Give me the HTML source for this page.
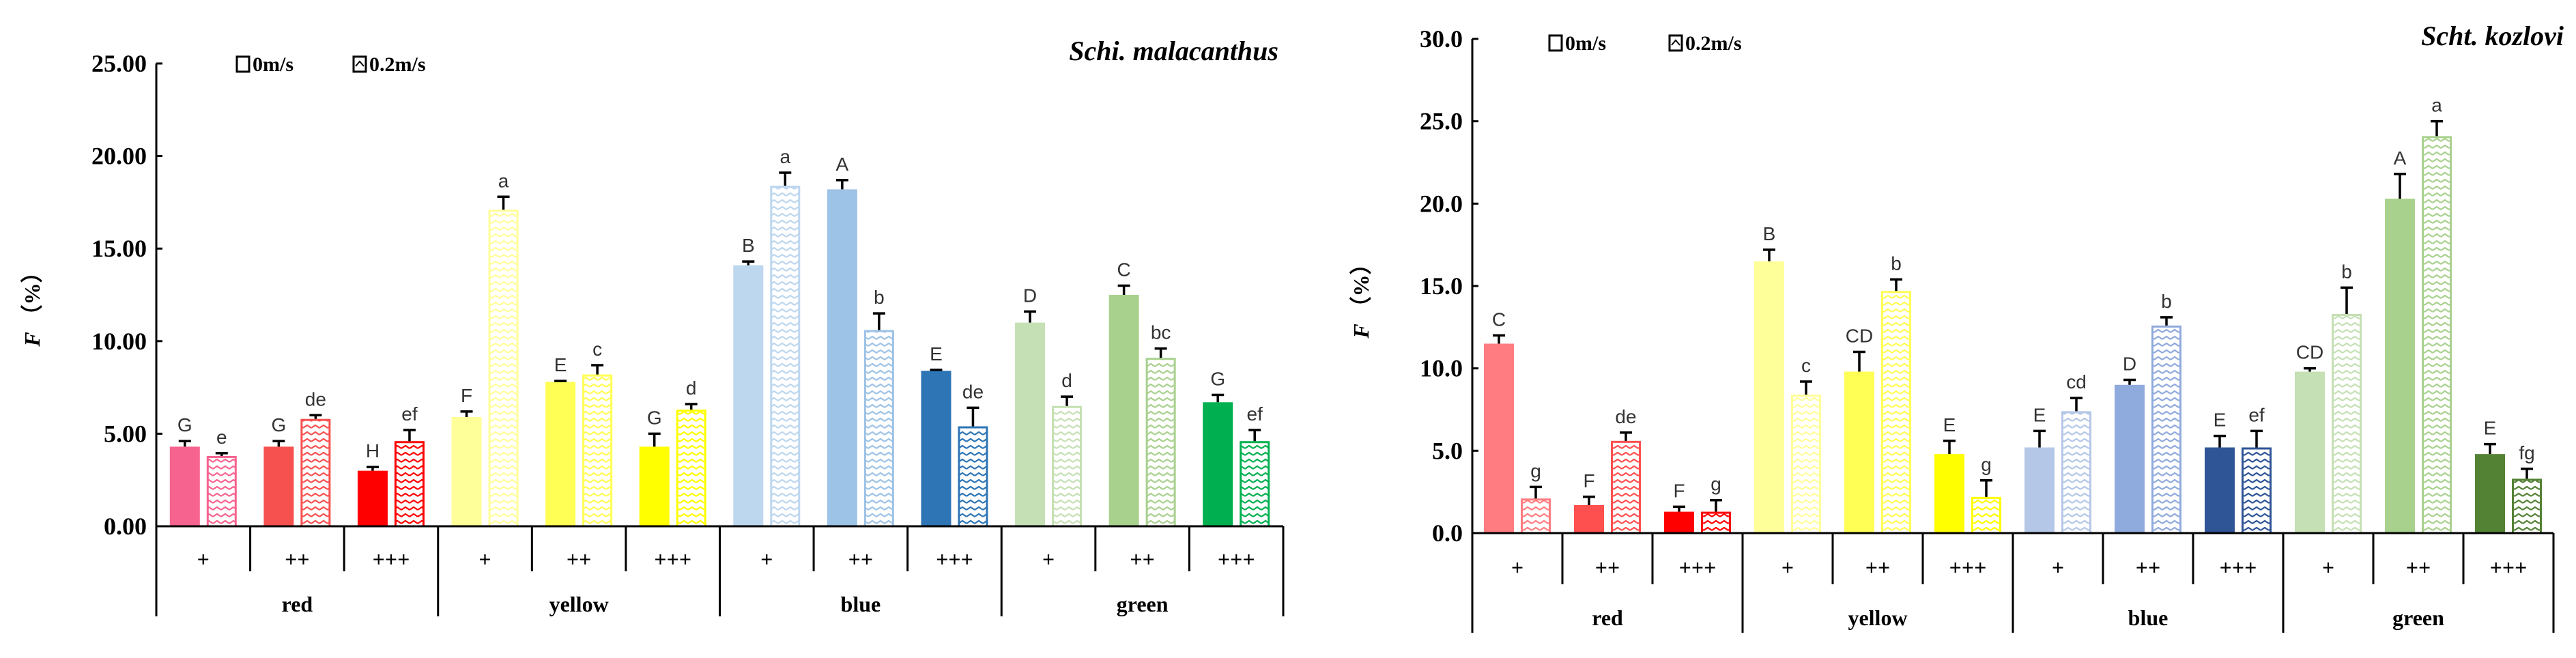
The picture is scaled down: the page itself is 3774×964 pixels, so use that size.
<!DOCTYPE html>
<html><head><meta charset="utf-8"><style>
html,body{margin:0;padding:0;background:#fff;}
svg{display:block;}
.tick{font-family:"Liberation Serif",serif;font-weight:bold;font-size:36px;fill:#000;}
.leg{font-family:"Liberation Serif",serif;font-weight:bold;font-size:30px;fill:#000;}
.ttl{font-family:"Liberation Serif",serif;font-weight:bold;font-style:italic;font-size:40px;fill:#000;}
.lab{font-family:"Liberation Sans",sans-serif;font-size:28px;fill:#333;}
.cat{font-family:"Liberation Serif",serif;font-weight:bold;font-size:32px;fill:#000;}
</style></head><body>
<svg id="svg" width="3774" height="964" viewBox="0 0 3774 964" xmlns="http://www.w3.org/2000/svg"><defs id="defs"></defs></svg>
<script>
const groups=["red","yellow","blue","green"];
const subs=["+","++","+++"];
// Left chart: Schi. malacanthus
const leftTicks=["0.00","5.00","10.00","15.00","20.00","25.00"];
const leftStill=[4.3,4.3,3.0,5.9,7.8,4.3,14.1,18.2,8.4,11.0,12.5,6.7];
const leftStillErr=[0.3,0.3,0.2,0.3,0.05,0.7,0.2,0.5,0.05,0.6,0.5,0.4];
const leftStillLab=["G","G","H","F","E","G","B","A","E","D","C","G"];
const leftWind=[3.8,5.8,4.6,17.1,8.2,6.3,18.4,10.6,5.4,6.5,9.1,4.6];
const leftWindErr=[0.15,0.2,0.6,0.7,0.5,0.3,0.7,0.9,1.0,0.5,0.5,0.6];
const leftWindLab=["e","de","ef","a","c","d","a","b","de","d","bc","ef"];
// Right chart: Scht. kozlovi
const rightTicks=["0.0","5.0","10.0","15.0","20.0","25.0","30.0"];
const rightStill=[11.5,1.7,1.3,16.5,9.8,4.8,5.2,9.0,5.2,9.8,20.3,4.8];
const rightStillErr=[0.5,0.5,0.3,0.7,1.2,0.8,1.0,0.3,0.7,0.2,1.5,0.6];
const rightStillLab=["C","F","F","B","CD","E","E","D","E","CD","A","E"];
const rightWind=[2.1,5.6,1.3,8.4,14.7,2.2,7.4,12.6,5.2,13.3,24.1,3.3];
const rightWindErr=[0.7,0.5,0.7,0.8,0.7,1.0,0.8,0.5,1.0,1.6,0.9,0.6];
const rightWindLab=["g","de","g","c","b","g","cd","b","ef","b","a","fg"];

const leftColors=["#f7638f","#f7514f","#ff0000","#ffff99","#ffff55","#ffff00","#bdd7ee","#9dc3e6","#2e75b6","#c5e0b4","#a9d18e","#00b050"];
const rightColors=["#ff7c80","#ff5050","#ff0000","#ffff99","#ffff55","#ffff00","#b4c7e7","#8faadc","#2f5597","#c5e0b4","#a9d18e","#548235"];

const NS="http://www.w3.org/2000/svg";
const svg=document.getElementById("svg");
const defs=document.getElementById("defs");
function mk(tag,attrs,parent){const e=document.createElementNS(NS,tag);for(const k in attrs)e.setAttribute(k,attrs[k]);(parent||svg).appendChild(e);return e;}
function pattern(id,color){
  const p=mk("pattern",{id:id,width:12,height:10,patternUnits:"userSpaceOnUse"},defs);
  mk("rect",{x:0,y:0,width:12,height:10,fill:"#fff"},p);
  mk("path",{d:"M0 7 L6 3 L12 7",fill:"none",stroke:color,"stroke-width":2.2},p);
}
function chart(cfg){
  const g=mk("g",{});
  
  
  const maxV=cfg.max;
  const y=v=>cfg.y0-(v/maxV)*(cfg.y0-cfg.yTop);
  const n=12, sw=(cfg.x1-cfg.x0)/n;
  const xc=i=>cfg.x0+sw*(i+0.5);
  const ax=mk("line",{x1:cfg.x0,y1:cfg.yTop,x2:cfg.x0,y2:cfg.yGroup,stroke:"#000","stroke-width":3},g);
  
  
  cfg.ticks.forEach((t,i)=>{
    const v=i*maxV/(cfg.ticks.length-1);
    mk("line",{x1:cfg.x0,y1:y(v),x2:cfg.x0+9,y2:y(v),stroke:"#000","stroke-width":3},g);
    const tx=mk("text",{x:cfg.x0-14,y:y(v)+12,"text-anchor":"end",class:"tick"},g);
    tx.textContent=t;
    
    
  });
  for(let i=0;i<n;i++){
    const c=cfg.colors[i], pid=cfg.name+"-p"+i;
    pattern(pid,c);
    const bw=44, b1=xc(i)-5-bw, b2=xc(i)+5;
    const r1=mk("rect",{x:b1,y:y(cfg.still[i]),width:bw,height:cfg.y0-y(cfg.still[i]),fill:c},g);
    
    
    const r2=mk("rect",{x:b2+1.5,y:y(cfg.wind[i])+1.5,width:bw-3,height:cfg.y0-y(cfg.wind[i])-1.5,fill:"url(#"+pid+")",stroke:c,"stroke-width":3},g);
    
    
    [[b1,cfg.still[i],cfg.stillErr[i],cfg.stillLab[i]],[b2,cfg.wind[i],cfg.windErr[i],cfg.windLab[i]]].forEach(([bx,v,e,l])=>{
      const cx=bx+bw/2, top=y(v+e);
      const eb=mk("path",{d:`M${cx} ${y(v)} L${cx} ${top} M${cx-9} ${top} L${cx+9} ${top}`,stroke:"#000","stroke-width":3.5,fill:"none"},g);
      
      
      const lt=mk("text",{x:cx,y:top-14,"text-anchor":"middle",class:"lab"},g);
      lt.textContent=l;
      
      
    });
  }
  const bl=mk("line",{x1:cfg.x0,y1:cfg.y0,x2:cfg.x1,y2:cfg.y0,stroke:"#000","stroke-width":3},g);
  
  
  for(let i=1;i<=n;i++){
    const xx=cfg.x0+sw*i;
    const isG=i%3===0;
    mk("line",{x1:xx,y1:cfg.y0,x2:xx,y2:isG?cfg.yGroup:cfg.ySub,stroke:"#000","stroke-width":3},g);
  }
  for(let i=0;i<n;i++){
    const t=mk("text",{x:xc(i),y:cfg.subLabY,"text-anchor":"middle",class:"cat"},g);
    t.textContent=subs[i%3];
    
    
  }
  groups.forEach((gn,k)=>{
    const t=mk("text",{x:cfg.x0+sw*(3*k+1.5),y:cfg.grpLabY,"text-anchor":"middle",class:"cat"},g);
    t.textContent=gn;
    
    
  });
  const yt=mk("text",{x:0,y:0,transform:`translate(${cfg.yTitleX},${cfg.yTitleY}) rotate(-90)`,"text-anchor":"middle",class:"cat","font-size":"38"},g);
  yt.innerHTML='<tspan font-style="italic">F</tspan> （%）';
  
  
  const lg=mk("g",{},g);
  
  
  mk("rect",{x:cfg.legX,y:cfg.legY-21,width:18,height:22,fill:"#fff",stroke:"#000","stroke-width":3},lg);
  const l1=mk("text",{x:cfg.legX+23,y:cfg.legY,class:"leg"},lg);l1.textContent="0m/s";
  mk("rect",{x:cfg.legX2,y:cfg.legY-21,width:18,height:22,fill:"#fff",stroke:"#000","stroke-width":3},lg);
  mk("path",{d:`M${cfg.legX2+3} ${cfg.legY-7} L${cfg.legX2+9} ${cfg.legY-14} L${cfg.legX2+15} ${cfg.legY-7}`,stroke:"#000","stroke-width":2,fill:"none"},lg);
  const l2=mk("text",{x:cfg.legX2+23,y:cfg.legY,class:"leg"},lg);l2.textContent="0.2m/s";
  const tt=mk("text",{x:cfg.titleX,y:cfg.titleY,"text-anchor":"end",class:"ttl"},g);
  tt.textContent=cfg.title;
  
  
}
chart({name:"left-chart",title:"Schi. malacanthus",max:25,ticks:leftTicks,still:leftStill,stillErr:leftStillErr,stillLab:leftStillLab,wind:leftWind,windErr:leftWindErr,windLab:leftWindLab,colors:leftColors,
  x0:229,x1:1880,y0:771,yTop:93,ySub:837,yGroup:903,subLabY:830,grpLabY:896,yTitleX:58,yTitleY:445,legX:347,legY:104,legX2:518,titleX:1873,titleY:88});
chart({name:"right-chart",title:"Scht. kozlovi",max:30,ticks:rightTicks,still:rightStill,stillErr:rightStillErr,stillLab:rightStillLab,wind:rightWind,windErr:rightWindErr,windLab:rightWindLab,colors:rightColors,
  x0:2157,x1:3741,y0:781,yTop:57,ySub:856,yGroup:927,subLabY:842,grpLabY:916,yTitleX:2005,yTitleY:433,legX:2270,legY:73,legX2:2446,titleX:3756,titleY:66});
</script>
</body></html>
